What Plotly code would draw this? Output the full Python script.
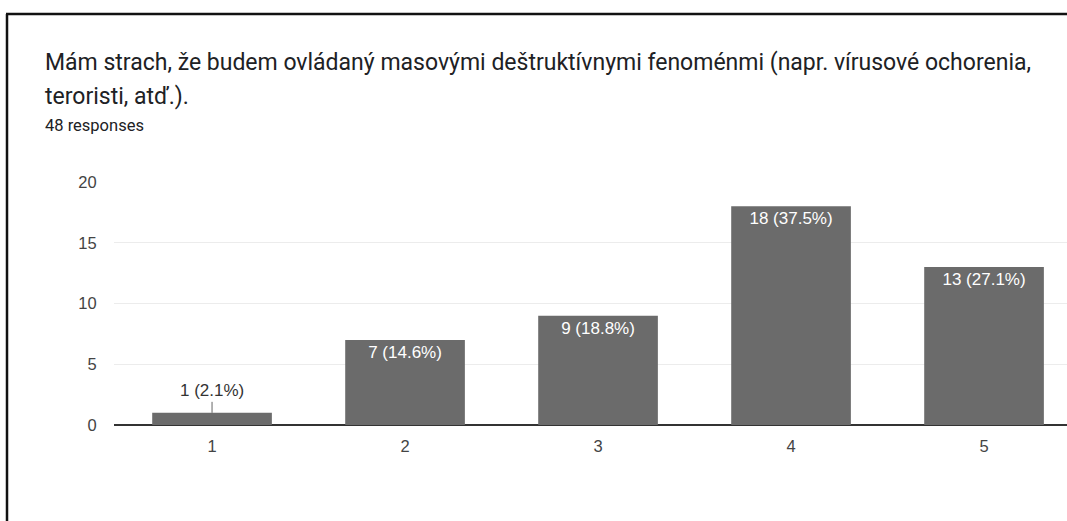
import plotly.graph_objects as go

# survey answers (scale 1-5) and counts
categories = [1, 2, 3, 4, 5]
counts = [1, 7, 9, 18, 13]
tick_vals = [0, 5, 10, 15, 20]

title_line1 = "Mám strach, že budem ovládaný masovými deštruktívnymi fenoménmi (napr. vírusové ochorenia,"
title_line2 = "teroristi, atď.)."
subtitle = "48 responses"

total = sum(counts)
labels = [f"{c} ({c / total * 100:.1f}%)" for c in counts]

# pixel geometry of the plot area, used to turn pixel positions into paper coords
W, H = 1067, 521
L, R, T, B = 114, 0, 182, 96
pw = W - L - R
ph = H - T - B


def px(x):
    return (x - L) / pw


def py(y):
    return (H - B - y) / ph


# small bars get the label outside with a leader line
small = [c < 3 for c in counts]
bar_text = ["" if s else t for s, t in zip(small, labels)]

label_font = "Liberation Sans, Arial, sans-serif"

fig = go.Figure()
fig.add_trace(go.Bar(
    x=categories,
    y=counts,
    width=0.62,
    marker=dict(color="#6b6b6b", line=dict(width=0)),
    text=bar_text,
    textposition="inside",
    insidetextanchor="end",
    textangle=0,
    insidetextfont=dict(family=label_font, size=17, color="white"),
    hoverinfo="skip",
))

annotations = []
for cat, c, s, t in zip(categories, counts, small, labels):
    if s:
        annotations.append(dict(
            x=cat, y=c, xref="x", yref="y", text=t,
            showarrow=True, arrowhead=0, arrowwidth=1, arrowcolor="#666",
            ax=0, ay=-22, yanchor="middle",
            font=dict(family=label_font, size=17, color="#333"),
        ))

title_font = dict(family="Roboto, sans-serif", size=23, color="#202124")
annotations += [
    dict(xref="paper", yref="paper", x=px(43), y=py(62), text=title_line1,
         showarrow=False, xanchor="left", yanchor="middle", font=title_font),
    dict(xref="paper", yref="paper", x=px(43), y=py(96), text=title_line2,
         showarrow=False, xanchor="left", yanchor="middle", font=title_font),
    dict(xref="paper", yref="paper", x=px(43), y=py(125), text=subtitle,
         showarrow=False, xanchor="left", yanchor="middle",
         font=dict(family="Roboto, sans-serif", size=16.5, color="#202124")),
]

fig.update_layout(
    width=W,
    height=H,
    margin=dict(l=L, r=R, t=T, b=B, pad=0),
    paper_bgcolor="white",
    plot_bgcolor="white",
    showlegend=False,
    annotations=annotations,
    shapes=[
        # scanned page frame (left and top edges)
        dict(type="line", xref="paper", yref="paper",
             x0=px(7), x1=px(7), y0=py(H + 20), y1=py(14),
             line=dict(color="#111", width=2.5)),
        dict(type="line", xref="paper", yref="paper",
             x0=px(6), x1=px(W + 20), y0=py(14), y1=py(14),
             line=dict(color="#111", width=2.5)),
    ],
    xaxis=dict(
        range=[0.492, 0.492 + pw / 193],
        tickvals=categories,
        ticks="outside", ticklen=6, tickcolor="rgba(0,0,0,0)",
        showgrid=False, zeroline=False, showline=False,
        tickfont=dict(family=label_font, size=16.5, color="#444"),
        fixedrange=True,
    ),
    yaxis=dict(
        range=[0, 20],
        tickvals=tick_vals,
        ticks="outside", ticklen=13, tickcolor="rgba(0,0,0,0)",
        showgrid=True, gridcolor="#ececec", gridwidth=1,
        zeroline=True, zerolinecolor="#333", zerolinewidth=2,
        tickfont=dict(family=label_font, size=16.5, color="#444"),
        fixedrange=True,
    ),
)

# drop the default page margin so the figure sits at the window origin
fig.write_html(
    "out.html",
    config={"displayModeBar": False},
    post_script="document.body.style.margin='0';document.body.style.overflow='hidden';",
)
